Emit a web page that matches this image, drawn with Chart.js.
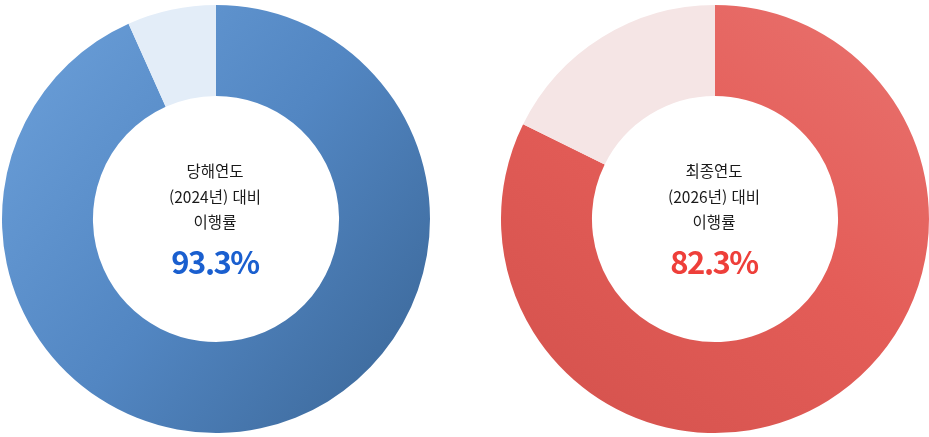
<!DOCTYPE html>
<html lang="ko">
<head>
<meta charset="utf-8">
<script src="https://cdn.jsdelivr.net/npm/chart.js@4"></script>
<style>
  html, body { margin: 0; padding: 0; background: #fff; }
  body { width: 929px; height: 437px; position: relative; overflow: hidden; font-family: "Noto Sans CJK KR", "Noto Sans", sans-serif; }
  .box { position: absolute; top: 0; height: 437px; }
  .center {
    position: absolute; left: 0; right: 0; top: 0; text-align: center;
    color: #111; pointer-events: none;
  }
  .center .lbl { font-size: 15.5px; line-height: 25.5px; position: absolute; left: -2px; right: 0; top: 158px; color: #1a1a1a; }
  .center .pct { font-size: 31px; font-weight: 700; letter-spacing: -1.5px; position: absolute; left: -2px; right: 0; top: 241px; line-height: 40px; }
</style>
</head>
<body>
<div class="box" id="boxA" style="left:0;width:432px;">
  <canvas id="chartA"></canvas>
  <div class="center">
    <div class="lbl">당해연도<br>(2024년) 대비<br>이행률</div>
    <div class="pct" style="color:#1a5fcf;">93.3%</div>
  </div>
</div>
<div class="box" id="boxB" style="left:501px;width:428px;">
  <canvas id="chartB"></canvas>
  <div class="center">
    <div class="lbl">최종연도<br>(2026년) 대비<br>이행률</div>
    <div class="pct" style="color:#ee3f3a;">82.3%</div>
  </div>
</div>
<script>
// values
const labelsA = ['이행', '미이행'];
const valuesA = [93.3, 6.7];
const labelsB = ['이행', '미이행'];
const valuesB = [82.3, 17.7];

// gradient helpers (top-left light -> bottom-right dark for blue, top-right light -> bottom-left dark for red)
function blueGradient(chart) {
    const a = chart.chartArea;
    if (!a) return '#4a7cb7';
    const g = chart.ctx.createLinearGradient(a.left, a.top + 60, a.right, a.bottom - 40);
    g.addColorStop(0, '#6a9ed8');
    g.addColorStop(0.5, '#5286c2');
    g.addColorStop(1, '#3b6798');
    return g;
}

function redGradient(chart) {
    const a = chart.chartArea;
    if (!a) return '#e05a55';
    const g = chart.ctx.createLinearGradient(a.right - 60, a.top, a.left + 40, a.bottom);
    g.addColorStop(0, '#e8706c');
    g.addColorStop(0.45, '#e45d58');
    g.addColorStop(1, '#d4524d');
    return g;
}

function makeDoughnut(id, labels, values, gradientFn, restColor) {
    return new Chart(document.getElementById(id), {
        type: 'doughnut',
        data: {
            labels: labels,
            datasets: [{
                data: values,
                // first slice gets the gradient, the remainder a pale tint
                backgroundColor: (ctx) => ctx.dataIndex === 0 ? gradientFn(ctx.chart) : restColor,
                borderWidth: 0,
                hoverOffset: 0
            }]
        },
        options: {
            responsive: true,
            maintainAspectRatio: false,
            animation: false,
            cutout: '57.5%',
            layout: { padding: { top: 5, bottom: 4, left: 0, right: 0 } },
            plugins: {
                legend: { display: false },
                tooltip: { enabled: false }
            }
        }
    });
}

makeDoughnut('chartA', labelsA, valuesA, blueGradient, '#e3edf8');
makeDoughnut('chartB', labelsB, valuesB, redGradient, '#f5e5e5');
</script>
</body>
</html>
